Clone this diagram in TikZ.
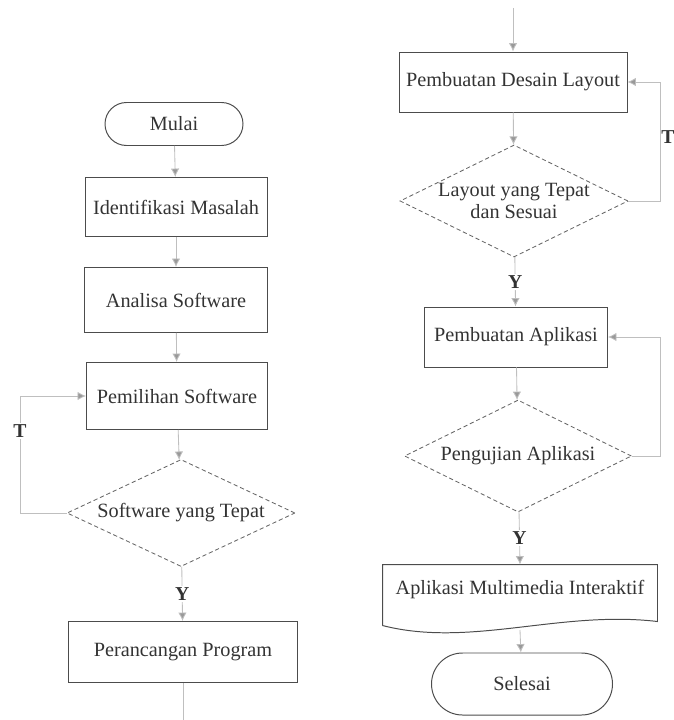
\documentclass[tikz,border=0pt]{standalone}
\usepackage{fontspec}
\setmainfont{Liberation Serif}
\usepackage{tikz}
\usetikzlibrary{shapes,arrows.meta,positioning,calc,shapes.geometric,shapes.misc}
\tikzset{boxsize/.style 2 args={minimum width=#1*0.025cm, minimum height=#2*0.025cm}}

\begin{document}
\begin{tikzpicture}[x=0.025cm, y=-0.025cm, >={Latex[length=6pt,width=6pt]}]
  % Styles
  \tikzstyle{process} = [rectangle, draw=black!70, line width=0.7pt, text=black!80, font=\fontsize{14.4}{16}\selectfont, align=center, inner sep=0pt]
  \tikzstyle{decision} = [diamond, aspect=2.1, draw=black!60, densely dashed, line width=0.6pt, text=black!80, font=\fontsize{14.4}{16}\selectfont, align=center, inner sep=0pt]
  \tikzstyle{terminal} = [rounded rectangle, draw=black!70, line width=0.7pt, text=black!80, font=\fontsize{14.4}{16}\selectfont, inner sep=0pt]
  \tikzstyle{flow} = [draw=black!25, line width=0.6pt, ->, >={Latex[length=6pt,width=6pt,fill=black!40]}]
  \tikzstyle{label} = [font=\fontsize{14}{16}\selectfont\bfseries, text=black!80, fill=white, inner sep=1pt]

  \useasboundingbox (0,0) rectangle (673,720);

  % Nodes, left column
  \node [terminal, boxsize={138}{43}] (mulai) at (174,124) {Mulai};
  \node [process, boxsize={182}{59}] (identifikasi) at (176,207) {Identifikasi Masalah};
  \node [process, boxsize={183}{65}] (analisa) at (176,300) {Analisa Software};
  \node [process, boxsize={181}{67}] (pemilihan) at (177,396) {Pemilihan Software};
  \node [decision, boxsize={228}{107}] (tepatSw) at (181,513) {Software yang Tepat};
  \node [process, boxsize={229}{61}] (perancangan) at (183,652) {Perancangan Program};
  \coordinate (leftBottom) at (183,720);
  \coordinate (leftLoop) at (20,513);

  % Nodes, right column
  \coordinate (rightTop) at (513,8);
  \node [process, boxsize={228}{60}] (desain) at (513,82) {Pembuatan Desain Layout};
  \node [decision, boxsize={228}{112}] (tepatLayout) at (514,201) {Layout yang Tepat\\dan Sesuai};
  \node [process, boxsize={183}{60}] (pembuatan) at (516,337) {Pembuatan Aplikasi};
  \node [decision, boxsize={227}{112}] (pengujian) at (518,456) {Pengujian Aplikasi};
  \node [process, draw=none, boxsize={274}{50}] (multimedia) at (520,590) {Aplikasi Multimedia Interaktif};
  \node [terminal, boxsize={181}{62}] (selesai) at (522,684) {Selesai};
  \coordinate (rightLoop) at (660,201);
  \coordinate (rightLoopB) at (660,456);
  \coordinate (waveMid) at (520,630);

  % Document shape with wavy bottom
  \draw [draw=black!70, line width=0.7pt]
    ($(multimedia.north west)+(0,61)$) -- (multimedia.north west) -- (multimedia.north east) -- ($(multimedia.north east)+(0,57)$)
    .. controls (560,610) and (470,648) .. ($(multimedia.north west)+(0,61)$);

  % Paths / Edges
  \draw [flow] (mulai) -- (identifikasi);
  \draw [flow] (identifikasi) -- (analisa);
  \draw [flow] (analisa) -- (pemilihan);
  \draw [flow] (pemilihan) -- (tepatSw);
  \draw [flow] (tepatSw) -- node[label] {Y} (perancangan);
  \draw [draw=black!25, line width=0.6pt] (perancangan) -- (leftBottom);
  \draw [flow] (tepatSw.west) -- (leftLoop) |- node[pos=0.35, label] {T} (pemilihan.west);

  \draw [flow] (rightTop) -- (desain);
  \draw [flow] (desain) -- (tepatLayout);
  \draw [flow] (tepatLayout) -- node[label] {Y} (pembuatan);
  \draw [flow] (pembuatan) -- (pengujian);
  \draw [flow] (pengujian) -- node[label] {Y} (multimedia.north);
  \draw [flow] (waveMid) -- (selesai);
  \draw [flow] (tepatLayout.east) -- (rightLoop) |- (desain.east);
  \node [label, fill=none] (tLayout) at (668,137) {T};
  \draw [flow] (pengujian.east) -- (rightLoopB) |- (pembuatan.east);

\end{tikzpicture}
\end{document}
